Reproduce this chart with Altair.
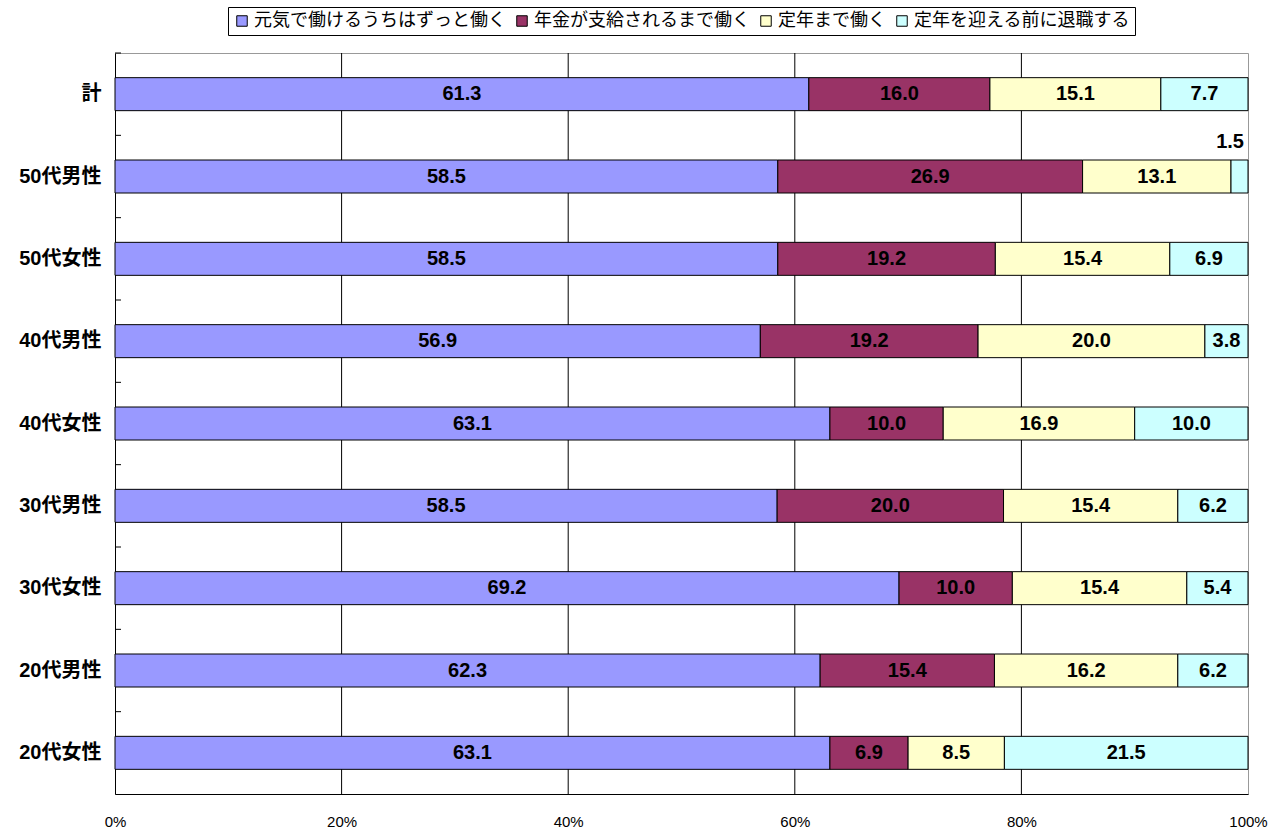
import altair as alt
import pandas as pd

# Groups (top to bottom) and answer options (left to right)
categories = ["計", "50代男性", "50代女性", "40代男性", "40代女性",
              "30代男性", "30代女性", "20代男性", "20代女性"]
series = ["元気で働けるうちはずっと働く", "年金が支給されるまで働く",
          "定年まで働く", "定年を迎える前に退職する"]
colors = ["#9999FF", "#993366", "#FFFFCC", "#CCFFFF"]

# Share (%) of each answer per group
work_while_healthy = [61.3, 58.5, 58.5, 56.9, 63.1, 58.5, 69.2, 62.3, 63.1]
until_pension = [16.0, 26.9, 19.2, 19.2, 10.0, 20.0, 10.0, 15.4, 6.9]
until_retirement = [15.1, 13.1, 15.4, 20.0, 16.9, 15.4, 15.4, 16.2, 8.5]
retire_early = [7.7, 1.5, 6.9, 3.8, 10.0, 6.2, 5.4, 6.2, 21.5]

grid_values = [0.2, 0.4, 0.6, 0.8]
axis_values = [0, 0.2, 0.4, 0.6, 0.8, 1.0]

rows = []
for order, (name, vals) in enumerate(zip(series, [work_while_healthy, until_pension,
                                                  until_retirement, retire_early])):
    for cat, v in zip(categories, vals):
        rows.append({"category": cat, "series": name, "order": order, "value": v})
df = pd.DataFrame(rows)

num_font = "'Liberation Sans', 'Noto Sans CJK JP', sans-serif"
cjk_font = "'Noto Sans CJK JP', sans-serif"

x_axis = alt.Axis(values=axis_values, format="%", grid=False, ticks=False,
                  domainColor="black", labelColor="black", labelFont="Liberation Sans",
                  labelFontSize=15, labelPadding=20, labelFlush=False, title=None)
x_scale = alt.Scale(domain=[0, 1], nice=False)
y_axis = alt.Axis(title=None, ticks=False, domainColor="black", labelColor="black",
                  labelFont=num_font, labelFontSize=20, labelFontWeight="bold",
                  labelPadding=14)
y_scale = alt.Scale(paddingInner=0, paddingOuter=0)


def y_enc(**kw):
    return alt.Y("category:N", sort=categories, scale=y_scale, axis=y_axis, **kw)


base = alt.Chart(df).transform_stack(
    stack="value", groupby=["category"], as_=["v0", "v1"], offset="normalize",
    sort=[alt.SortField("order", "ascending")]
).transform_calculate(mid="(datum.v0 + datum.v1) / 2")

bars = base.mark_bar(size=33, stroke="black", strokeWidth=1).encode(
    y=y_enc(),
    x=alt.X("v0:Q", scale=x_scale, axis=x_axis),
    x2="v1:Q",
    color=alt.Color(
        "series:N",
        scale=alt.Scale(domain=series, range=colors),
        legend=alt.Legend(
            title=None, orient="none", legendX=113, legendY=-46,
            direction="horizontal", columns=4, strokeColor="black",
            fillColor="white", padding=5, labelFont=cjk_font, labelFontSize=18,
            labelColor="black", labelLimit=400, labelOffset=3, columnPadding=7,
            symbolType="square", symbolSize=110, symbolStrokeColor="black",
            symbolStrokeWidth=1, symbolOpacity=1,
        ),
    ),
    order=alt.Order("order:Q"),
)

labels = base.transform_filter("datum.value >= 2").mark_text(
    font=num_font, fontSize=20, fontWeight="bold", color="black"
).encode(
    y=y_enc(),
    x=alt.X("mid:Q", scale=x_scale, axis=x_axis),
    text=alt.Text("value:Q", format=".1f"),
)

# Segments too narrow for an inside label get theirs above the bar end
small_labels = base.transform_filter("datum.value < 2").mark_text(
    font=num_font, fontSize=20, fontWeight="bold", color="black",
    align="right", dx=-4, dy=-35
).encode(
    y=y_enc(),
    x=alt.X("v1:Q", scale=x_scale, axis=x_axis),
    text=alt.Text("value:Q", format=".1f"),
)

grid = alt.Chart(pd.DataFrame({"g": grid_values})).mark_rule(
    color="black", strokeWidth=1
).encode(x=alt.X("g:Q", scale=x_scale, axis=x_axis))

# Inward ticks at the band boundaries of the category axis
ticks = alt.Chart(pd.DataFrame({"category": categories})).mark_rule(
    color="black", strokeWidth=1
).encode(
    y=y_enc(bandPosition=0),
    x=alt.value(0),
    x2=alt.value(6),
)

chart = alt.layer(grid, bars, labels, small_labels, ticks).properties(
    width=1133, height=741,
    autosize=alt.AutoSizeParams(type="none"),
    padding={"left": 115, "top": 53, "right": 31, "bottom": 35},
    background="white",
).configure_view(stroke="#999999", strokeWidth=1)

chart.save("out.html", embed_options={"renderer": "svg", "actions": False})
